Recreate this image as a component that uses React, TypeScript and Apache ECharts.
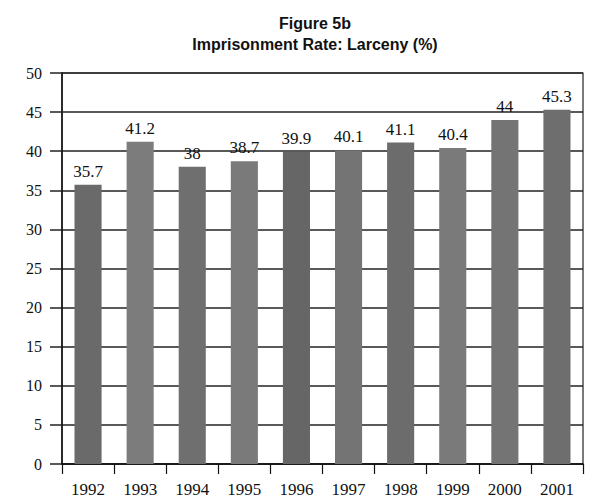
import React, { useEffect, useRef } from "react";
import * as echarts from "echarts";

const years = ["1992", "1993", "1994", "1995", "1996", "1997", "1998", "1999", "2000", "2001"];
const rates = [35.7, 41.2, 38, 38.7, 39.9, 40.1, 41.1, 40.4, 44, 45.3];
const barShades = ["#6a6a6a", "#7c7c7c", "#6f6f6f", "#7a7a7a", "#666666", "#747474", "#6c6c6c", "#7a7a7a", "#747474", "#6e6e6e"];

const serif = "'Liberation Serif', 'DejaVu Serif', serif";
const sans = "'Liberation Sans', 'DejaVu Sans', sans-serif";

export default function App() {
  const ref = useRef<HTMLDivElement>(null);
  useEffect(() => {
    if (!ref.current) return;
    const chart = echarts.init(ref.current, undefined, { renderer: "svg" });
    chart.setOption({
      animation: false,
      backgroundColor: "#ffffff",
      title: {
        text: "Figure 5b\nImprisonment Rate: Larceny (%)",
        left: 310,
        top: 8,
        textAlign: "center",
        textStyle: {
          fontFamily: sans,
          fontWeight: "bold",
          fontSize: 16,
          lineHeight: 21,
          color: "#111",
        },
      },
      grid: {
        left: 62,
        right: 7,
        top: 73,
        bottom: 34,
        show: true,
        borderColor: "#222",
        borderWidth: 1.2,
      },
      xAxis: {
        type: "category",
        data: years,
        axisLine: { lineStyle: { color: "#111", width: 1.5 } },
        axisTick: { show: true, length: 10, lineStyle: { color: "#111", width: 1.2 } },
        axisLabel: {
          interval: 0,
          margin: 17,
          fontFamily: serif,
          fontSize: 17,
          color: "#111",
        },
      },
      yAxis: {
        type: "value",
        min: 0,
        max: 50,
        interval: 5,
        axisLine: { show: true, lineStyle: { color: "#111", width: 1.5 } },
        axisTick: { show: true, inside: false, length: 12, lineStyle: { color: "#222", width: 1.5 } },
        axisLabel: {
          margin: 20,
          fontFamily: serif,
          fontSize: 16,
          color: "#111",
        },
        splitLine: { show: true, lineStyle: { color: "#222", width: 1.6 } },
      },
      series: [
        {
          type: "bar",
          data: rates.map((v, i) => ({ value: v, itemStyle: { color: barShades[i] } })),
          barWidth: "52%",
          label: {
            show: true,
            position: "top",
            distance: 5,
            fontFamily: serif,
            fontSize: 17,
            color: "#111",
          },
        },
      ],
    });
    return () => chart.dispose();
  }, []);
  return <div ref={ref} style={{ width: 590, height: 498, position: "absolute", left: 0, top: 0 }} />;
}
